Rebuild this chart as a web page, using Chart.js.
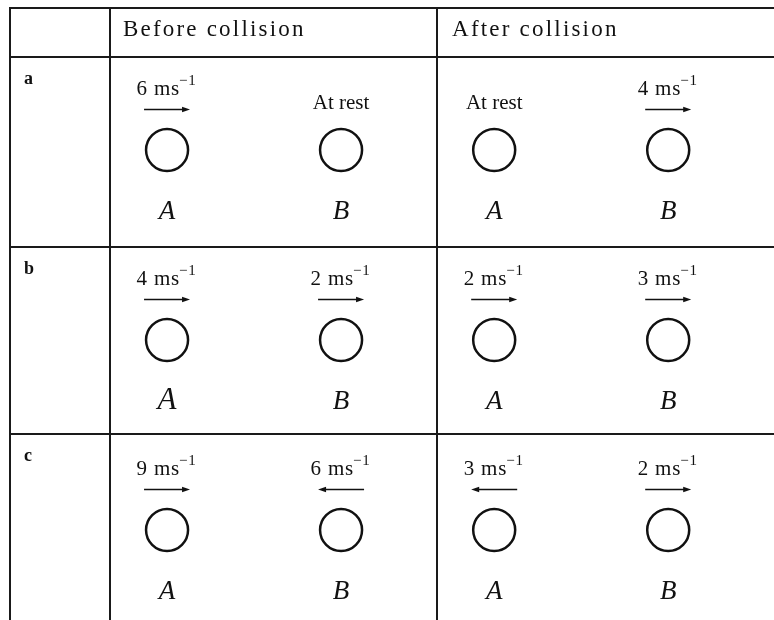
<!DOCTYPE html>
<html>
<head>
<meta charset="utf-8">
<script src="https://cdn.jsdelivr.net/npm/chart.js@4/dist/chart.umd.min.js"></script>
<style>
  html, body { margin: 0; padding: 0; background: #fff; }
  #wrap { width: 774px; height: 620px; }
</style>
</head>
<body>
<div id="wrap"><canvas id="c" width="774" height="620"></canvas></div>
<script>
// ---------------- DATA ----------------
const rowLabels = ['a', 'b', 'c'];
const columnTitles = ['Before collision', 'After collision'];
const bodyNames = ['A', 'B'];
const speedUnit = 'ms';
const unitPower = '\u22121';
const restText = 'At rest';
// signed velocities in m s^-1 (positive = to the right, 0 = at rest)
const velBeforeA = [6, 4, 9];
const velBeforeB = [0, 2, -6];
const velAfterA  = [0, 2, -3];
const velAfterB  = [4, 3, 2];

// ---------------- LAYOUT (scale units) ----------------
const X_MIN = -0.96, X_MAX = 3.488;
const Y_MIN = -0.789, Y_MAX = 2.474;
const slotX = [[0, 1], [1.88, 2.88]];       // [column][body]
const tableX = { left: -0.902, labelCol: -0.328, mid: 1.552 };
const tableY = { top: -0.747, head: -0.489, rows: [0.511, 1.495] };

const velocities = [[velBeforeA, velBeforeB], [velAfterA, velAfterB]];

// circles as scatter points
const circleData = [];
rowLabels.forEach((r, ri) => {
  slotX.forEach((col) => col.forEach((x) => circleData.push({ x: x, y: ri })));
});

const SERIF = '"Liberation Serif", "Times New Roman", serif';

const diagramPlugin = {
  id: 'diagram',
  beforeDatasetsDraw(chart) {
    const { ctx, scales: { x, y } } = chart;
    const W = chart.width, H = chart.height;
    ctx.save();
    ctx.strokeStyle = '#1a1a1a';
    ctx.lineWidth = 2;
    const hLine = (yv, x0) => {
      const py = Math.round(y.getPixelForValue(yv));
      ctx.beginPath(); ctx.moveTo(x.getPixelForValue(x0) - 1, py); ctx.lineTo(W, py); ctx.stroke();
    };
    const vLine = (xv) => {
      const px = Math.round(x.getPixelForValue(xv));
      ctx.beginPath(); ctx.moveTo(px, y.getPixelForValue(tableY.top) - 1); ctx.lineTo(px, H); ctx.stroke();
    };
    hLine(tableY.top, tableX.left);
    hLine(tableY.head, tableX.left);
    tableY.rows.forEach(v => hLine(v, tableX.left));
    vLine(tableX.left); vLine(tableX.labelCol); vLine(tableX.mid);

    // column titles
    ctx.fillStyle = '#111';
    ctx.font = '23px ' + SERIF;
    ctx.textBaseline = 'alphabetic';
    ctx.textAlign = 'left';
    try { ctx.letterSpacing = '2.2px'; } catch (e) {}
    const titleY = y.getPixelForValue(tableY.head) - 21;
    ctx.fillText(columnTitles[0], x.getPixelForValue(tableX.labelCol) + 13, titleY);
    ctx.fillText(columnTitles[1], x.getPixelForValue(tableX.mid) + 15, titleY);
    try { ctx.letterSpacing = '0px'; } catch (e) {}

    // row labels
    const rowTops = [tableY.head, ...tableY.rows];
    ctx.font = 'bold 18px ' + SERIF;
    rowLabels.forEach((lab, ri) => {
      ctx.fillText(lab, x.getPixelForValue(tableX.left) + 14, y.getPixelForValue(rowTops[ri]) + 27);
    });

    // velocity labels, arrows, body names
    rowLabels.forEach((lab, ri) => {
      const cy = y.getPixelForValue(ri);
      slotX.forEach((col, ci) => {
        col.forEach((sx, bi) => {
          const cx = x.getPixelForValue(sx);
          const v = velocities[ci][bi][ri];
          ctx.fillStyle = '#111';
          ctx.strokeStyle = '#111';
          if (v === 0) {
            ctx.font = '21px ' + SERIF;
            ctx.textAlign = 'center';
            ctx.fillText(restText, cx, cy - 41);
          } else {
            const main = Math.abs(v) + ' ' + speedUnit;
            ctx.font = '21px ' + SERIF;
            try { ctx.letterSpacing = '0.8px'; } catch (e) {}
            const wm = ctx.measureText(main).width;
            ctx.font = '15px ' + SERIF;
            const ws = ctx.measureText(unitPower).width;
            const x0 = cx - (wm + ws) / 2;
            ctx.textAlign = 'left';
            ctx.font = '21px ' + SERIF;
            ctx.fillText(main, x0, cy - 55);
            ctx.font = '15px ' + SERIF;
            ctx.fillText(unitPower, x0 + wm - 1, cy - 65);
            try { ctx.letterSpacing = '0px'; } catch (e) {}
            // arrow
            const ay = Math.round(cy - 41) + 0.5;
            const half = 23;
            const dir = Math.sign(v);
            const tail = cx - dir * half, head = cx + dir * half;
            ctx.lineWidth = 1.5;
            ctx.beginPath(); ctx.moveTo(tail, ay); ctx.lineTo(head - dir * 4, ay); ctx.stroke();
            ctx.beginPath();
            ctx.moveTo(head, ay);
            ctx.lineTo(head - dir * 8, ay - 2.8);
            ctx.lineTo(head - dir * 8, ay + 2.8);
            ctx.closePath(); ctx.fill();
          }
          // body name
          const big = (ri === 1 && ci === 0 && bi === 0);
          ctx.font = 'italic ' + (big ? 31 : 27) + 'px ' + SERIF;
          ctx.textAlign = 'center';
          ctx.fillText(bodyNames[bi], cx, cy + 69);
        });
      });
    });
    ctx.restore();
  }
};

new Chart(document.getElementById('c'), {
  type: 'scatter',
  data: {
    datasets: [{
      data: circleData,
      pointRadius: 21,
      pointHoverRadius: 21,
      pointBorderWidth: 2.5,
      pointBorderColor: '#111',
      pointBackgroundColor: 'rgba(255,255,255,0)',
      showLine: false,
      clip: false
    }]
  },
  options: {
    responsive: false,
    animation: false,
    events: [],
    layout: { padding: 0, autoPadding: false },
    plugins: { legend: { display: false }, tooltip: { enabled: false } },
    scales: {
      x: { type: 'linear', min: X_MIN, max: X_MAX, display: false },
      y: { type: 'linear', min: Y_MIN, max: Y_MAX, reverse: true, display: false }
    }
  },
  plugins: [diagramPlugin]
});
</script>
</body>
</html>
